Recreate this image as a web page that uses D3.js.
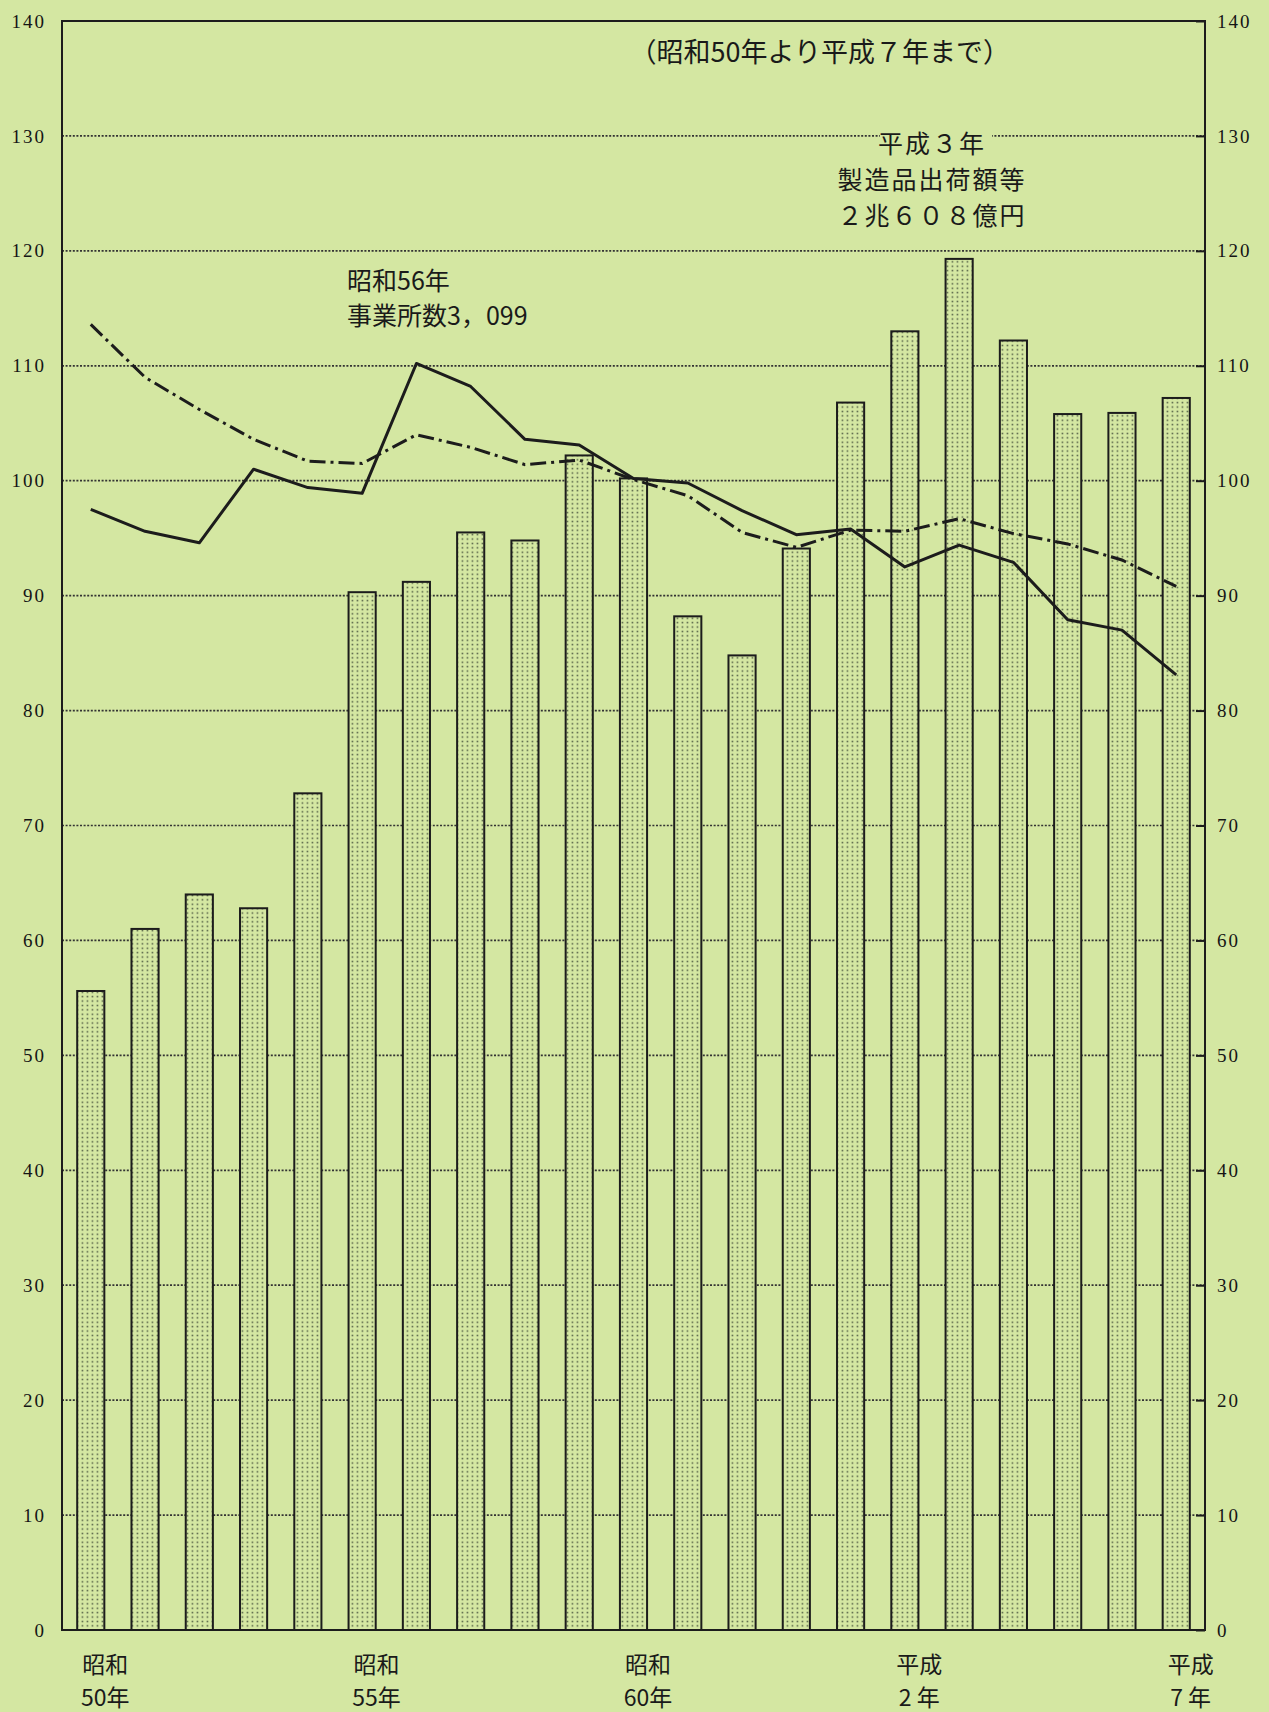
<!DOCTYPE html>
<html>
<head>
<meta charset="utf-8">
<script src="https://cdn.jsdelivr.net/npm/d3@7"></script>
<style>
  html, body { margin: 0; padding: 0; background: #d4e7a2; }
  svg { display: block; }
  .tick text { font-family: "Liberation Serif", "DejaVu Serif", serif; font-size: 19px; fill: #151515; letter-spacing: 2px; }
  .note { font-family: "Noto Sans CJK JP", sans-serif; fill: #1a1a1a; }
</style>
</head>
<body>
<div id="chart"></div>
<script>
// Years, 昭和50年 (1975) to 平成7年 (1995)
var years = [1975, 1976, 1977, 1978, 1979, 1980, 1981, 1982, 1983, 1984, 1985,
             1986, 1987, 1988, 1989, 1990, 1991, 1992, 1993, 1994, 1995]

// 製造品出荷額等 index (bars)
var shipments = [55.6, 61.0, 64.0, 62.8, 72.8, 90.3, 91.2, 95.5, 94.8, 102.2, 100.2,
                 88.2, 84.8, 94.1, 106.8, 113.0, 119.3, 112.2, 105.8, 105.9, 107.2]

// 事業所数 index (solid line)
var offices = [97.5, 95.6, 94.6, 101.0, 99.4, 98.9, 110.2, 108.2, 103.6, 103.1, 100.2,
               99.8, 97.4, 95.3, 95.8, 92.5, 94.4, 92.9, 87.9, 87.0, 83.1]

// 従業者数 index (dash-dot line)
var workers = [113.6, 109.0, 106.2, 103.6, 101.7, 101.5, 104.0, 102.9, 101.4, 101.8, 100.1,
               98.7, 95.5, 94.2, 95.7, 95.6, 96.7, 95.4, 94.5, 93.1, 90.8]

// Axis ticks and labels
var yTicks      = [0, 10, 20, 30, 40, 50, 60, 70, 80, 90, 100, 110, 120, 130, 140]
var xLabelYears = [1975, 1980, 1985, 1990, 1995]
var xLabelEra   = ["昭和", "昭和", "昭和", "平成", "平成"]
var xLabelNum   = ["50年", "55年", "60年", "2 年", "7 年"]

// Plot box (note: "top" is taken by window.top, so use other names)
var W = 1269, H = 1712,
    plotL = 62, plotR = 1205, plotT = 21, plotB = 1630,
    ink = "#1c1c1c",
    bg  = "#d4e7a2"

var svg = d3.select("#chart").append("svg")
            .attr("width", W)
            .attr("height", H)

// Dotted screen used inside the bars
var pat = svg.append("defs").append("pattern")
             .attr("id", "dots")
             .attr("patternUnits", "userSpaceOnUse")
             .attr("width", 5)
             .attr("height", 4.4)
pat.append("rect").attr("width", 5).attr("height", 4.4).attr("fill", bg)
pat.append("rect").attr("x", 1.6).attr("y", 1.5).attr("width", 1.7).attr("height", 1.5).attr("fill", "#5d6a4c")

// Scales
var xScale = d3.scaleBand()
               .domain(years)
               .range([plotL, plotR])
               .paddingInner(0.5)
               .paddingOuter(0.28)
var yScale = d3.scaleLinear()
               .domain([0, 140])
               .range([plotB, plotT])
var cx = function (d, i) { return xScale(years[i]) + xScale.bandwidth() / 2 }

// Dotted grid lines
svg.append("g")
   .attr("class", "grid")
   .selectAll("line")
   .data(yTicks.filter(function (t) { return t > 0 && t < 140 }))
   .enter()
     .append("line")
       .attr("x1", plotL)
       .attr("x2", plotR)
       .attr("y1", function (d) { return yScale(d) })
       .attr("y2", function (d) { return yScale(d) })
       .attr("stroke", "#333")
       .attr("stroke-width", 1.7)
       .attr("stroke-dasharray", "2,1.6")

// Axes
var yAxisL = d3.axisLeft(yScale).tickValues(yTicks).tickSize(0).tickPadding(16),
    yAxisR = d3.axisRight(yScale).tickValues(yTicks).tickSize(-9).tickPadding(12)
svg.append("g")
   .attr("class", "axis axis-left")
   .attr("transform", "translate(" + plotL + ",0)")
   .call(yAxisL)
svg.append("g")
   .attr("class", "axis axis-right")
   .attr("transform", "translate(" + plotR + ",0)")
   .call(yAxisR)
svg.selectAll(".axis .domain").remove()
svg.selectAll(".axis line").attr("stroke", ink).attr("stroke-width", 2)

// Annotations (drawn before the bars, with a patch to break the grid line)
var note1 = svg.append("g").attr("class", "note")
note1.append("rect")
     .attr("x", 880).attr("y", yScale(130) - 4)
     .attr("width", 112).attr("height", 10)
     .attr("fill", bg)
note1.selectAll("text")
     .data(["平成３年", "製造品出荷額等", "２兆６０８億円"])
     .enter()
       .append("text")
         .attr("x", 932)
         .attr("y", function (d, i) { return yScale(130) + 17 + i * 36 })
         .attr("text-anchor", "middle")
         .attr("font-size", 25)
         .attr("letter-spacing", 2)
         .text(function (d) { return d })

svg.append("text")
   .attr("class", "note")
   .attr("x", 1010)
   .attr("y", 62)
   .attr("text-anchor", "end")
   .attr("font-size", 27)
   .text("（昭和50年より平成７年まで）")

svg.append("g")
   .attr("class", "note")
   .selectAll("text")
   .data(["昭和56年", "事業所数3，099"])
   .enter()
     .append("text")
       .attr("x", 347)
       .attr("y", function (d, i) { return 290 + i * 35 })
       .attr("font-size", 25)
       .text(function (d) { return d })

// Bars
svg.append("g")
   .attr("class", "bars")
   .selectAll("rect")
   .data(shipments)
   .enter()
     .append("rect")
       .attr("x", function (d, i) { return xScale(years[i]) })
       .attr("y", function (d) { return yScale(d) })
       .attr("width", xScale.bandwidth())
       .attr("height", function (d) { return plotB - yScale(d) })
       .attr("fill", "url(#dots)")
       .attr("stroke", ink)
       .attr("stroke-width", 2)

// Lines
var line = d3.line()
             .x(cx)
             .y(function (d) { return yScale(d) })

svg.append("path")
   .datum(workers)
   .attr("d", line)
   .attr("fill", "none")
   .attr("stroke", ink)
   .attr("stroke-width", 3)
   .attr("stroke-dasharray", "16,5,3,5")

svg.append("path")
   .datum(offices)
   .attr("d", line)
   .attr("fill", "none")
   .attr("stroke", ink)
   .attr("stroke-width", 3)
   .attr("stroke-linejoin", "round")

// Frame
svg.append("rect")
   .attr("x", plotL)
   .attr("y", plotT)
   .attr("width", plotR - plotL)
   .attr("height", plotB - plotT)
   .attr("fill", "none")
   .attr("stroke", ink)
   .attr("stroke-width", 2)

// Era labels under the x axis
var xl = svg.append("g")
            .attr("class", "note")
            .selectAll("g")
            .data(xLabelYears)
            .enter()
              .append("g")
xl.append("text")
  .attr("x", function (d) { return xScale(d) + 28 })
  .attr("y", 1673)
  .attr("text-anchor", "middle")
  .attr("font-size", 23)
  .text(function (d, i) { return xLabelEra[i] })
xl.append("text")
  .attr("x", function (d) { return xScale(d) + 28 })
  .attr("y", 1706)
  .attr("text-anchor", "middle")
  .attr("font-size", 23)
  .text(function (d, i) { return xLabelNum[i] })
</script>
</body>
</html>
